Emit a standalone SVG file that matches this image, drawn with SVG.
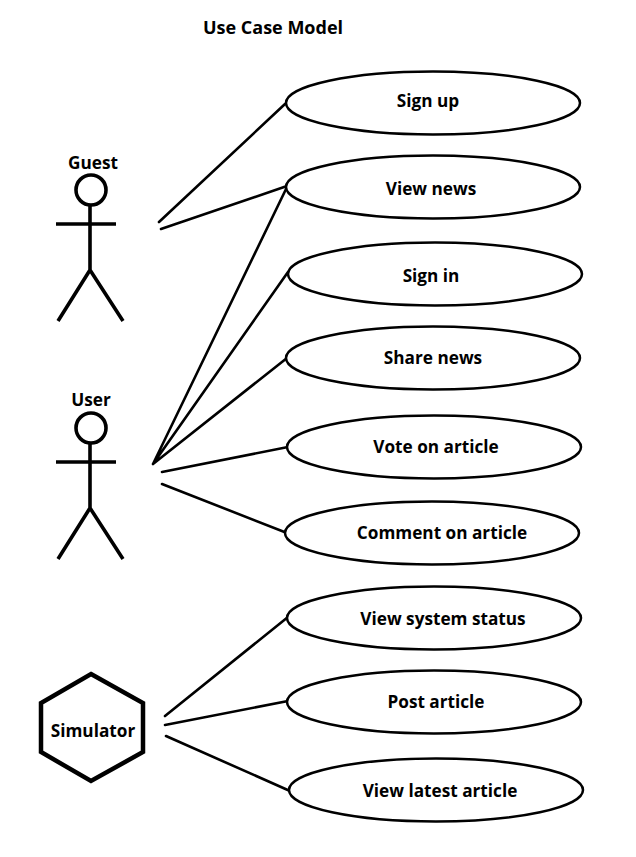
<svg xmlns="http://www.w3.org/2000/svg" width="636" height="857" viewBox="0 0 636 857">
<style>
text{font-family:"Open Sans","Noto Sans",sans-serif;font-weight:700;font-size:17.2px;fill:#000;text-anchor:middle}
.t{font-size:18px}
.u{fill:#fff;stroke:#000;stroke-width:2.5}
.l{fill:none;stroke:#000;stroke-width:2.600;stroke-linecap:round;stroke-linejoin:round}
.a{fill:none;stroke:#000;stroke-width:3.600;stroke-linecap:butt}
</style>
<rect width="636" height="857" fill="#fff"/>
<text class="t" x="273" y="34">Use Case Model</text>
<g id="connectors">
<path class="l" d="M159 222L285 104M161 229L287 186M153 464L287 187M153 464L288 272M153 464L287 358M162 472L288 447M162 484L287 533M165 716L288 617M165 725L288 701M166 736L290 791"/>
</g>
<g id="guest"><text x="93" y="168.500">Guest</text><circle class="a" cx="91" cy="190" r="15"/><path class="a" d="M90 205V270M56 224H116M90 270L58 321M90 270L123 321"/></g>
<g id="user"><text x="91" y="405.500">User</text><circle class="a" cx="91" cy="428" r="15"/><path class="a" d="M90 443V508M56 462H116M90 508L58 559M90 508L123 559"/></g>
<g id="simulator"><polygon points="91,674 143,703 143,752 91,781 41,752 41,703" fill="#fff" stroke="#000" stroke-width="4.500"/><text x="93" y="736.500">Simulator</text></g>
<g id="signup"><ellipse class="u" cx="433" cy="103" rx="147" ry="31.500"/><text x="428" y="106.500">Sign up</text></g>
<g id="viewnews"><ellipse class="u" cx="433" cy="187" rx="147" ry="31.500"/><text x="431" y="194.500">View news</text></g>
<g id="signin"><ellipse class="u" cx="435" cy="274" rx="147" ry="31.500"/><text x="431" y="281.500">Sign in</text></g>
<g id="share"><ellipse class="u" cx="433" cy="358" rx="147" ry="31.500"/><text x="433" y="363.500">Share news</text></g>
<g id="vote"><ellipse class="u" cx="434" cy="447" rx="147" ry="31.500"/><text x="436" y="452.500">Vote on article</text></g>
<g id="comment"><ellipse class="u" cx="432" cy="533" rx="147" ry="31.500"/><text x="442" y="538.500">Comment on article</text></g>
<g id="status"><ellipse class="u" cx="434" cy="618" rx="147" ry="31.500"/><text x="443" y="624.500">View system status</text></g>
<g id="post"><ellipse class="u" cx="434" cy="702" rx="147" ry="31.500"/><text x="436" y="707.500">Post article</text></g>
<g id="latest"><ellipse class="u" cx="436" cy="790" rx="147" ry="31.500"/><text x="440" y="796.500">View latest article</text></g>
</svg>
